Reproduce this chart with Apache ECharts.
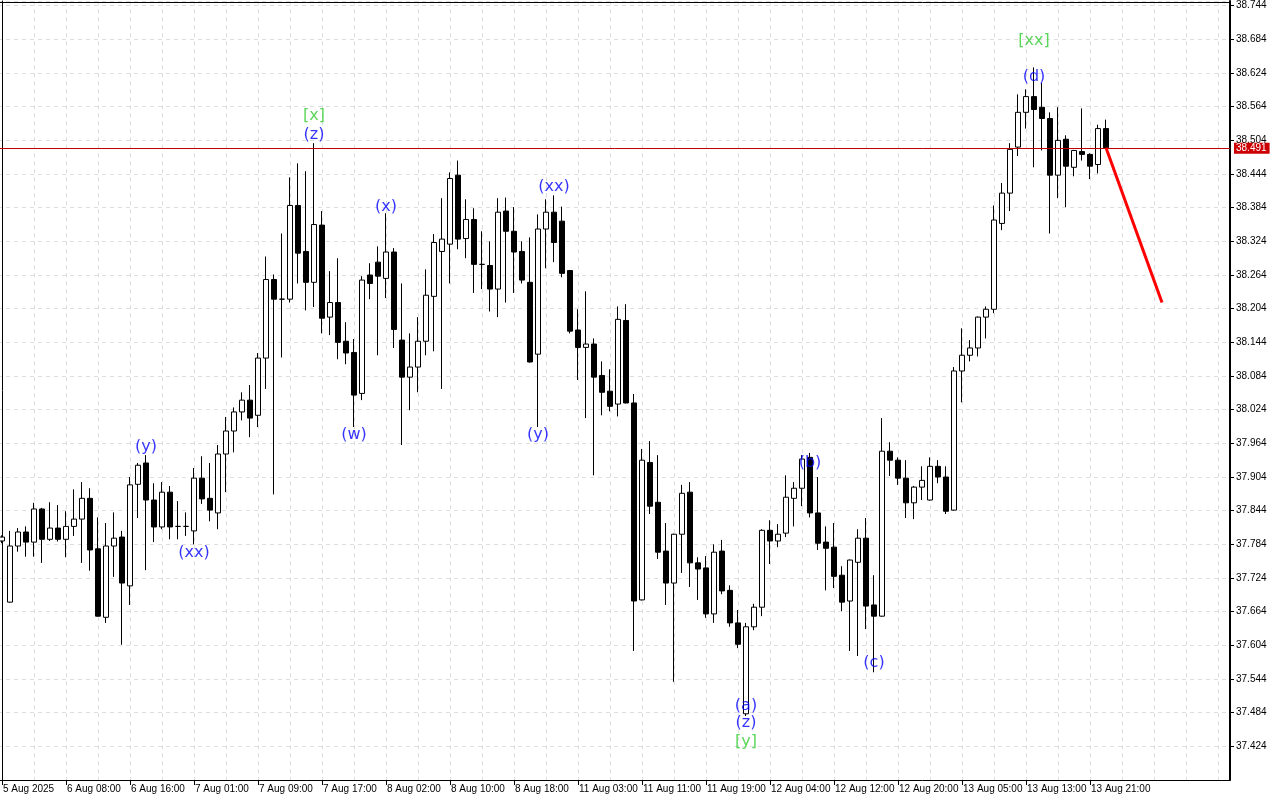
<!DOCTYPE html>
<html><head><meta charset="utf-8">
<script src="https://cdn.jsdelivr.net/npm/echarts@6/dist/echarts.min.js"></script>
<style>html,body{margin:0;padding:0;background:#fff}#chart{width:1280px;height:800px}</style>
</head><body><div id="chart"></div>
<script>
const categories = [
'5 Aug 23:00',
'6 Aug 01:00','6 Aug 02:00','6 Aug 03:00','6 Aug 04:00','6 Aug 05:00','6 Aug 06:00','6 Aug 07:00','6 Aug 08:00','6 Aug 09:00','6 Aug 10:00','6 Aug 11:00','6 Aug 12:00','6 Aug 13:00','6 Aug 14:00','6 Aug 15:00','6 Aug 16:00','6 Aug 17:00','6 Aug 18:00','6 Aug 19:00','6 Aug 20:00','6 Aug 21:00','6 Aug 22:00','6 Aug 23:00',
'7 Aug 01:00','7 Aug 02:00','7 Aug 03:00','7 Aug 04:00','7 Aug 05:00','7 Aug 06:00','7 Aug 07:00','7 Aug 08:00','7 Aug 09:00','7 Aug 10:00','7 Aug 11:00','7 Aug 12:00','7 Aug 13:00','7 Aug 14:00','7 Aug 15:00','7 Aug 16:00','7 Aug 17:00','7 Aug 18:00','7 Aug 19:00','7 Aug 20:00','7 Aug 21:00','7 Aug 22:00','7 Aug 23:00',
'8 Aug 01:00','8 Aug 02:00','8 Aug 03:00','8 Aug 04:00','8 Aug 05:00','8 Aug 06:00','8 Aug 07:00','8 Aug 08:00','8 Aug 09:00','8 Aug 10:00','8 Aug 11:00','8 Aug 12:00','8 Aug 13:00','8 Aug 14:00','8 Aug 15:00','8 Aug 16:00','8 Aug 17:00','8 Aug 18:00','8 Aug 19:00','8 Aug 20:00','8 Aug 21:00','8 Aug 22:00','8 Aug 23:00',
'11 Aug 01:00','11 Aug 02:00','11 Aug 03:00','11 Aug 04:00','11 Aug 05:00','11 Aug 06:00','11 Aug 07:00','11 Aug 08:00','11 Aug 09:00','11 Aug 10:00','11 Aug 11:00','11 Aug 12:00','11 Aug 13:00','11 Aug 14:00','11 Aug 15:00','11 Aug 16:00','11 Aug 17:00','11 Aug 18:00','11 Aug 19:00','11 Aug 20:00','11 Aug 21:00','11 Aug 22:00','11 Aug 23:00',
'12 Aug 01:00','12 Aug 02:00','12 Aug 03:00','12 Aug 04:00','12 Aug 05:00','12 Aug 06:00','12 Aug 07:00','12 Aug 08:00','12 Aug 09:00','12 Aug 10:00','12 Aug 11:00','12 Aug 12:00','12 Aug 13:00','12 Aug 14:00','12 Aug 15:00','12 Aug 16:00','12 Aug 17:00','12 Aug 18:00','12 Aug 19:00','12 Aug 20:00','12 Aug 21:00','12 Aug 22:00','12 Aug 23:00',
'13 Aug 01:00','13 Aug 02:00','13 Aug 03:00','13 Aug 04:00','13 Aug 05:00','13 Aug 06:00','13 Aug 07:00','13 Aug 08:00','13 Aug 09:00','13 Aug 10:00','13 Aug 11:00','13 Aug 12:00','13 Aug 13:00','13 Aug 14:00','13 Aug 15:00','13 Aug 16:00','13 Aug 17:00','13 Aug 18:00','13 Aug 19:00','13 Aug 20:00','13 Aug 21:00','13 Aug 22:00','13 Aug 23:00',
'14 Aug 01:00','14 Aug 02:00','14 Aug 03:00','14 Aug 04:00','14 Aug 05:00','14 Aug 06:00','14 Aug 07:00','14 Aug 08:00','14 Aug 09:00','14 Aug 10:00','14 Aug 11:00','14 Aug 12:00','14 Aug 13:00','14 Aug 14:00','14 Aug 15:00'
];
const firstLabel = '5 Aug 2025';

const opens = [
37.790,37.681,37.781,37.806,37.788,37.847,37.793,37.813,37.793,37.816,
37.829,37.866,37.776,37.654,37.781,37.797,37.710,37.891,37.929,37.863,
37.815,37.877,37.816,37.816,37.808,37.902,37.866,37.840,37.945,37.986,
38.020,38.041,38.014,38.116,38.256,38.221,38.221,38.388,38.306,38.251,
38.353,38.189,38.215,38.146,38.126,38.053,38.264,38.287,38.258,38.305,
38.148,38.082,38.100,38.146,38.226,38.306,38.319,38.442,38.329,38.363,
38.283,38.281,38.239,38.378,38.342,38.306,38.251,38.123,38.346,38.376,
38.360,38.272,38.166,38.135,38.141,38.085,38.057,38.034,38.183,38.036,
37.685,37.930,37.859,37.772,37.715,37.802,37.877,37.751,37.742,37.660,
37.772,37.702,37.644,37.482,37.637,37.672,37.809,37.790,37.804,37.866,
37.884,37.939,37.840,37.788,37.779,37.729,37.683,37.752,37.795,37.676,
37.656,37.950,37.934,37.902,37.858,37.886,37.863,37.923,37.904,37.845,
38.093,38.121,38.134,38.189,38.203,38.356,38.410,38.492,38.554,38.582,
38.563,38.543,38.442,38.506,38.456,38.484,38.479,38.461,38.525];
const highs = [
37.800,37.808,37.813,37.816,37.858,37.849,37.859,37.854,37.843,37.882,
37.895,37.884,37.832,37.822,37.841,37.808,37.904,37.929,37.943,37.893,
37.895,37.888,37.861,37.841,37.920,37.941,37.929,37.961,38.011,38.028,
38.055,38.068,38.125,38.297,38.265,38.338,38.438,38.463,38.449,38.499,
38.378,38.271,38.294,38.180,38.150,38.262,38.285,38.315,38.374,38.312,
38.249,38.160,38.189,38.274,38.337,38.401,38.447,38.468,38.399,38.383,
38.342,38.324,38.401,38.402,38.385,38.324,38.331,38.372,38.399,38.406,
38.386,38.273,38.203,38.235,38.151,38.110,38.096,38.208,38.212,38.052,
37.954,37.968,37.943,37.822,37.803,37.890,37.895,37.761,37.763,37.784,
37.792,37.711,37.667,37.644,37.678,37.811,37.827,37.820,37.907,37.895,
37.943,37.947,37.904,37.816,37.822,37.745,37.757,37.811,37.831,37.729,
38.009,37.966,37.939,37.934,37.888,37.923,37.939,37.934,37.923,38.100,
38.169,38.148,38.190,38.208,38.388,38.428,38.499,38.586,38.595,38.634,
38.606,38.554,38.563,38.513,38.487,38.561,38.481,38.532,38.541];
const lows = [
37.786,37.680,37.771,37.762,37.762,37.751,37.790,37.789,37.761,37.799,
37.751,37.737,37.655,37.644,37.726,37.605,37.676,37.831,37.738,37.788,
37.811,37.793,37.793,37.799,37.784,37.856,37.825,37.811,37.877,37.948,
38.005,37.975,37.993,38.061,37.873,38.117,38.215,38.249,38.201,38.207,
38.160,38.157,38.114,38.105,37.993,38.041,38.221,38.121,38.223,38.134,
37.961,38.023,38.055,38.121,38.128,38.061,38.249,38.310,38.294,38.232,
38.239,38.199,38.189,38.215,38.232,38.249,38.108,37.993,38.276,38.287,
38.260,38.160,38.077,38.009,37.907,38.014,38.021,38.012,38.035,37.594,
37.684,37.838,37.758,37.676,37.539,37.733,37.708,37.685,37.653,37.644,
37.695,37.637,37.599,37.478,37.631,37.656,37.749,37.779,37.797,37.816,
37.852,37.832,37.774,37.702,37.706,37.665,37.594,37.585,37.633,37.556,
37.655,37.906,37.890,37.831,37.829,37.863,37.862,37.893,37.838,37.844,
38.037,38.110,38.119,38.151,38.196,38.344,38.378,38.476,38.525,38.456,
38.486,38.338,38.401,38.385,38.440,38.468,38.435,38.445,38.490];
const closes = [
37.797,37.781,37.806,37.788,37.847,37.793,37.813,37.793,37.816,37.829,
37.866,37.774,37.656,37.781,37.795,37.715,37.890,37.925,37.863,37.815,
37.877,37.815,37.816,37.816,37.902,37.865,37.845,37.945,37.986,38.020,
38.041,38.009,38.116,38.256,38.221,38.221,38.388,38.303,38.251,38.354,
38.187,38.215,38.144,38.125,38.050,38.255,38.249,38.262,38.305,38.167,
38.082,38.100,38.146,38.228,38.322,38.328,38.436,38.328,38.363,38.283,
38.283,38.239,38.376,38.342,38.305,38.255,38.109,38.346,38.376,38.322,
38.267,38.164,38.135,38.141,38.082,38.055,38.030,38.185,38.036,37.683,
37.934,37.852,37.770,37.715,37.802,37.875,37.751,37.740,37.660,37.770,
37.701,37.644,37.606,37.637,37.672,37.809,37.790,37.802,37.868,37.884,
37.936,37.840,37.786,37.777,37.727,37.681,37.756,37.795,37.674,37.656,
37.950,37.934,37.902,37.858,37.886,37.898,37.923,37.904,37.843,38.093,
38.121,38.134,38.189,38.203,38.362,38.410,38.488,38.554,38.582,38.559,
38.543,38.442,38.504,38.458,38.486,38.479,38.458,38.525,38.491];

const lastPrice = 38.491;
const projIndex = [138, 145];
const projPrice = [38.491, 38.215];

const annotIndex = [18, 24, 39, 39, 44, 48, 67, 69, 93, 93, 93, 101, 109, 129, 129];
const annotPrice = [37.957, 37.768, 38.547, 38.513, 37.979, 38.386, 37.979, 38.422, 37.496, 37.466, 37.432, 37.929, 37.572, 38.682, 38.618];
const annotText = ['(y)','(xx)','[x]','(z)','(w)','(x)','(y)','(xx)','(a)','(z)','[y]','(b)','(c)','[xx]','(d)'];

const yMin = 37.364, yMax = 38.7524, yStep = 0.06;

const candleData = opens.map((o, i) => [o, closes[i], lows[i], highs[i]]);
const showTime = (i) => i % 8 === 0 && i < closes.length;

const chart = echarts.init(document.getElementById('chart'), null, {renderer: 'canvas'});
chart.setOption({
  animation: false,
  backgroundColor: '#ffffff',
  grid: { left: -2, right: 50, top: 1, bottom: 20, containLabel: false, outerBoundsMode: 'none' },
  xAxis: [{
    type: 'category', data: categories, boundaryGap: true,
    axisLine: { show: true, onZero: false, lineStyle: { color: '#000', width: 1 } },
    axisTick: { show: true, alignWithLabel: true, interval: (i) => showTime(i), length: 5, lineStyle: { color: '#000' } },
    axisLabel: { show: true, interval: (i) => showTime(i), align: 'left', margin: 4, color: '#000',
      fontFamily: 'Liberation Sans', fontSize: 10, padding: [0, 0, 0, 1],
      formatter: (v, i) => i === 0 ? firstLabel : v },
    splitLine: { show: true, alignWithLabel: true, interval: (i) => i % 4 === 0, lineStyle: { color: '#dedede', type: [4, 4], width: 1 } }
  }, {
    type: 'category', data: categories, position: 'top', offset: -1,
    axisLine: { show: true, onZero: false, lineStyle: { color: '#000', width: 1 } },
    axisTick: { show: false }, axisLabel: { show: false }, splitLine: { show: false }
  }],
  yAxis: [{
    type: 'value', position: 'right', min: yMin, max: yMax, interval: yStep,
    axisLine: { show: true, onZero: false, lineStyle: { color: '#000', width: 2 } },
    axisTick: { show: true, length: 4, lineStyle: { color: '#000' } },
    axisLabel: { show: true, color: '#000', fontFamily: 'Liberation Sans', fontSize: 10, margin: 6,
      showMinLabel: false, showMaxLabel: false, formatter: (v) => v.toFixed(3) },
    splitLine: { show: true, lineStyle: { color: '#dedede', type: [4, 4], width: 1 } }
  }, {
    type: 'value', position: 'left', offset: -4, min: yMin, max: yMax, interval: yStep,
    axisLine: { show: true, onZero: false, lineStyle: { color: '#000', width: 1 } },
    axisTick: { show: false }, axisLabel: { show: false }, splitLine: { show: false }
  }],
  series: [{
    type: 'candlestick', xAxisIndex: 0, yAxisIndex: 0, data: candleData, barWidth: 5,
    itemStyle: { color: '#ffffff', color0: '#000000', borderColor: '#000000', borderColor0: '#000000', borderWidth: 1 },
    markLine: {
      silent: true, symbol: ['none', 'none'], animation: false,
      lineStyle: { color: '#c00000', width: 1, type: 'solid' },
      label: { show: true, position: 'end', distance: 4, formatter: () => lastPrice.toFixed(3),
        backgroundColor: '#cc0000', color: '#fff', fontFamily: 'Liberation Sans', fontSize: 10, padding: [1, 3, 0, 2] },
      data: [{ yAxis: lastPrice }]
    }
  }, {
    type: 'line', xAxisIndex: 0, yAxisIndex: 0, symbol: 'none',
    data: projIndex.map((x, i) => [x, projPrice[i]]),
    lineStyle: { color: '#ff0000', width: 3 }, z: 5
  }, {
    type: 'scatter', xAxisIndex: 0, yAxisIndex: 0, symbolSize: 1, z: 6,
    itemStyle: { color: 'rgba(0,0,0,0)' },
    data: annotIndex.map((x, i) => ({
      value: [x, annotPrice[i]],
      label: { color: annotText[i].charAt(0) === '[' ? '#32cd32' : '#0000ff' }
    })),
    label: { show: true, position: 'inside', fontFamily: 'DejaVu Sans', fontSize: 16,
      formatter: (p) => annotText[p.dataIndex] }
  }]
});
</script>
</body></html>
